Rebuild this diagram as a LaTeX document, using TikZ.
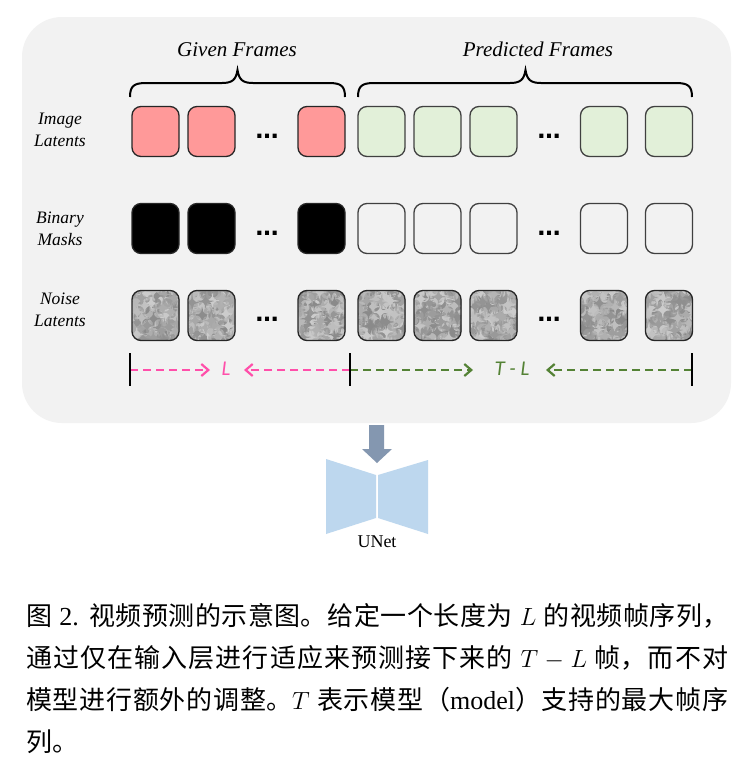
\documentclass[tikz,border=0pt]{standalone}
\usepackage{fontspec}
\setmainfont{Liberation Serif}
\newfontfamily\cjk{Noto Sans CJK SC}
\newfontfamily\calib{Carlito}
\newfontfamily\dejavu{DejaVu Sans}
\usetikzlibrary{arrows.meta}
\definecolor{panel}{HTML}{F2F2F2}
\definecolor{redbox}{HTML}{FF9999}
\definecolor{greenbox}{HTML}{E2F0D9}
\definecolor{pinkline}{HTML}{FF4FAA}
\definecolor{greenline}{HTML}{548235}
\definecolor{arrowblue}{HTML}{8497B0}
\definecolor{unetblue}{HTML}{BDD7EE}
\tikzset{
  frame/.style={draw=black!85, line width=1.3pt, rounded corners=9pt, minimum width=47pt, minimum height=50pt, inner sep=0pt},
  redframe/.style={frame, fill=redbox},
  greenframe/.style={frame, fill=greenbox, draw=black!75},
  blackframe/.style={frame, fill=black},
  emptyframe/.style={frame, draw=black!75},
  noiseframe/.style={frame, path picture={
      \fill[black!35] (path picture bounding box.south west) rectangle (path picture bounding box.north east);
      \begin{scope}[shift={(path picture bounding box.center)}]
        \foreach \i in {1,...,600}{
          \pgfmathsetmacro\rx{rand*25}
          \pgfmathsetmacro\ry{rand*27}
          \pgfmathsetmacro\rs{int(random(20,46))}
          \fill[black!\rs] (\rx,\ry) rectangle ++(1.3,1.3);
        }
      \end{scope}}},
  rowlabel/.style={font=\fontsize{17.5}{22}\selectfont\itshape, align=center, inner sep=0pt},
  heading/.style={font=\fontsize{21}{24}\selectfont\itshape, anchor=base, inner sep=0pt},
  dotsnode/.style={font=\fontsize{23}{24}\selectfont\dejavu\bfseries, anchor=base, inner sep=0pt},
  bracepath/.style={line width=2pt, black},
  bar/.style={line width=2.2pt, black},
  pinkdash/.style={line width=2.2pt, pinkline, dash pattern=on 8pt off 5pt, -{Straight Barb[length=7pt,width=12pt]}},
  greendash/.style={line width=2.2pt, greenline, dash pattern=on 8pt off 5pt, -{Straight Barb[length=7pt,width=12pt]}},
  dimlabel/.style={font=\calib\fontsize{21}{22}\selectfont\itshape, inner sep=0pt}
}
\begin{document}
\begin{tikzpicture}[x=1pt,y=-1pt]
\pgfmathsetseed{7}
\fill[white] (0,0) rectangle (752,761);
\useasboundingbox (0,0) rectangle (752,761);
% panel
\fill[panel, rounded corners=40pt] (22,17) rectangle (731,423);
% headings
\node[heading] (given) at (237,56) {Given Frames};
\node[heading] (pred) at (538,56) {Predicted Frames};
% braces
\draw[bracepath] (130,97) .. controls (130,86) and (134,83) .. (146,83) -- (222,83) .. controls (232,83) and (236,80) .. (237.5,70)
  .. controls (239,80) and (243,83) .. (253,83) -- (329,83) .. controls (341,83) and (345,86) .. (345,97);
\draw[bracepath] (358,97) .. controls (358,86) and (362,83) .. (374,83) -- (510,83) .. controls (520,83) and (524,80) .. (525.5,70)
  .. controls (527,80) and (531,83) .. (541,83) -- (676,83) .. controls (688,83) and (692,86) .. (692,97);
% row labels
\node[rowlabel] (lab1) at (60,130) {Image\\Latents};
\node[rowlabel] (lab2) at (60,228.5) {Binary\\Masks};
\node[rowlabel] (lab3) at (60,309.5) {Noise\\Latents};
% image latents
\node[redframe] (i1) at (155.5,131.5) {};
\node[redframe] (i2) at (211.5,131.5) {};
\node[redframe] (i3) at (321.5,131.5) {};
\node[greenframe] (i4) at (381.5,131.5) {};
\node[greenframe] (i5) at (437.5,131.5) {};
\node[greenframe] (i6) at (493.5,131.5) {};
\node[greenframe] (i7) at (604,131.5) {};
\node[greenframe] (i8) at (669,131.5) {};
% masks
\node[blackframe] (m1) at (155.5,228.5) {};
\node[blackframe] (m2) at (211.5,228.5) {};
\node[blackframe] (m3) at (321.5,228.5) {};
\node[emptyframe] (m4) at (381.5,228.5) {};
\node[emptyframe] (m5) at (437.5,228.5) {};
\node[emptyframe] (m6) at (493.5,228.5) {};
\node[emptyframe] (m7) at (604,228.5) {};
\node[emptyframe] (m8) at (669,228.5) {};
% noise
\node[noiseframe] (n1) at (155.5,315.5) {};
\node[noiseframe] (n2) at (211.5,315.5) {};
\node[noiseframe] (n3) at (321.5,315.5) {};
\node[noiseframe] (n4) at (381.5,315.5) {};
\node[noiseframe] (n5) at (437.5,315.5) {};
\node[noiseframe] (n6) at (493.5,315.5) {};
\node[noiseframe] (n7) at (604,315.5) {};
\node[noiseframe] (n8) at (669,315.5) {};
% dots
\node[dotsnode] (d1) at (267,138) {…};
\node[dotsnode] (d2) at (549,138) {…};
\node[dotsnode] (d3) at (267,235) {…};
\node[dotsnode] (d4) at (549,235) {…};
\node[dotsnode] (d5) at (267,321) {…};
\node[dotsnode] (d6) at (549,321) {…};
% dimension lines
\coordinate (b1) at (130,370);
\coordinate (b2) at (350,370);
\coordinate (b3) at (692,370);
\coordinate (pa) at (210,370);
\coordinate (pb) at (244,370);
\coordinate (ga) at (473,370);
\coordinate (gb) at (546,370);
\draw[pinkdash] (b1) -- (pa);
\draw[pinkdash] (b2) -- (pb);
\draw[greendash] (b2) -- (ga);
\draw[greendash] (b3) -- (gb);
\draw[bar] (130,353) -- (130,386);
\draw[bar] (350,353) -- (350,386);
\draw[bar] (692,353) -- (692,386);
\node[dimlabel, text=pinkline] (Llab) at (226,369) {L};
\node[dimlabel, text=greenline] (TLlab) at (512,369) {T - L};
% block arrow
\fill[arrowblue] (369,425) -- (384,425) -- (384,449) -- (392,449) -- (377,463) -- (362,449) -- (369,449) -- cycle;
% UNet
\fill[unetblue] (326,459) -- (376,475) -- (376,518) -- (326,534) -- cycle;
\fill[unetblue] (378,475) -- (428,460) -- (428,534) -- (378,518) -- cycle;
\node[font=\fontsize{18}{20}\selectfont, anchor=base, inner sep=0pt] (unet) at (377,547) {UNet};
% caption
\node[anchor=base west, inner sep=0pt] (cap) at (26,625) {\parbox[t]{702pt}{\fontsize{26}{42}\selectfont
\XeTeXlinebreaklocale "zh"\XeTeXlinebreakskip=0pt plus 3pt minus 0.5pt\relax
{\cjk 图} 2. {\cjk 视频预测的示意图。给定一个长度为} $L$ {\cjk 的视频帧序列，}\linebreak
{\cjk 通过仅在输入层进行适应来预测接下来的} $T-L$ {\cjk 帧，而不对}\linebreak
{\cjk 模型进行额外的调整。}$T$ {\cjk 表示模型（}model{\cjk ）支持的最大帧序}\linebreak
{\cjk 列。}}};
\end{tikzpicture}
\end{document}
